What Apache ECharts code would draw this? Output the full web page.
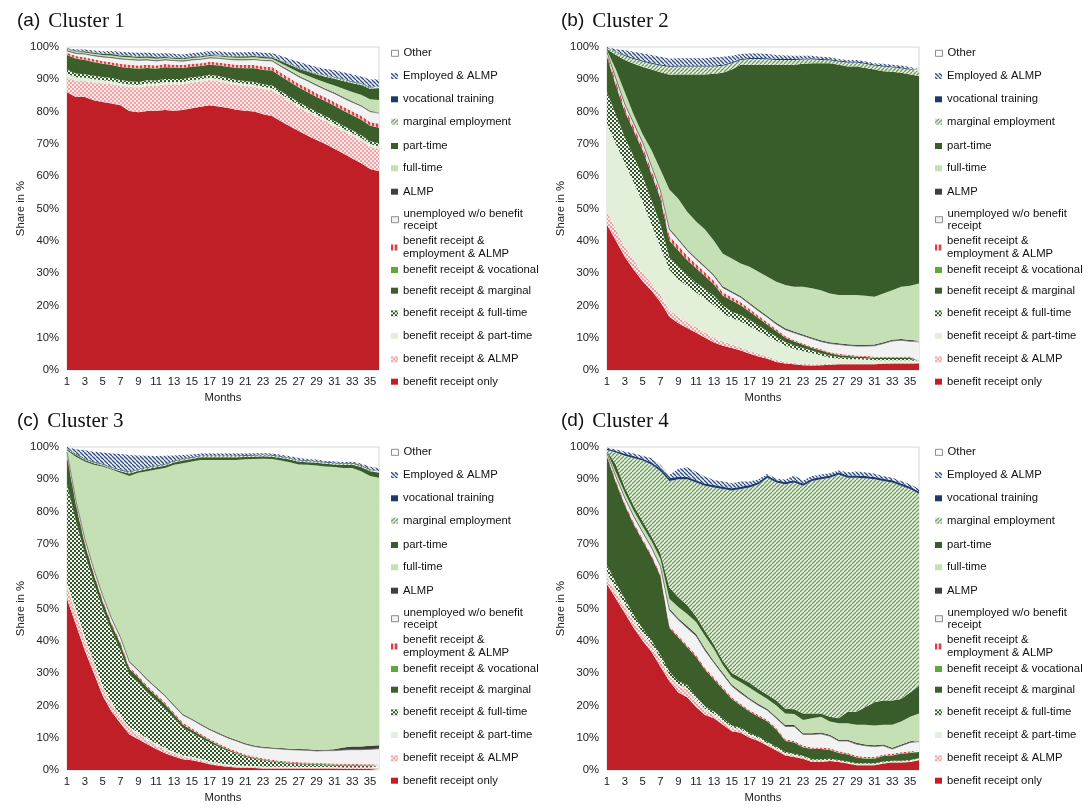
<!DOCTYPE html>
<html><head><meta charset="utf-8">
<script src="https://cdn.jsdelivr.net/npm/echarts@6/dist/echarts.min.js"></script>
<style>html,body{margin:0;padding:0;background:#fff}#c{width:1088px;height:810px}</style>
</head><body><div id="c"></div>
<script>
// ---------- categories / labels ----------
const months = ['1','2','3','4','5','6','7','8','9','10','11','12','13','14','15','16','17','18','19','20','21','22','23','24','25','26','27','28','29','30','31','32','33','34','35','36'];
const seriesNames = ['benefit receipt only','benefit receipt & ALMP','benefit receipt & part-time','benefit receipt & full-time','benefit receipt & marginal','benefit receipt & vocational','benefit receipt & employment & ALMP','unemployed w/o benefit receipt','ALMP','full-time','part-time','marginal employment','vocational training','Employed & ALMP','Other'];
const panelLetters = ['(a)','(b)','(c)','(d)'];
const clusterNames = ['Cluster 1','Cluster 2','Cluster 3','Cluster 4'];

// ---------- Cluster 1 (shares in %) ----------
const c1Only = [86,84.5,84.5,83.5,83,82.5,82,80.2,79.8,80.2,80.3,80.5,80.3,80.5,81,81.5,82,81.6,81.2,80.6,80.3,80,79.2,78.6,77,75.5,74,72.5,71.2,70,68.5,67,65.5,64,62.2,61.5];
const c1BenAlmp = [4.5,5.0,5.0,5.5,5.8,6.0,6.0,7.5,7.7,7.8,7.7,8.0,8.2,8.0,8.0,7.8,7.8,7.8,7.6,7.6,7.6,7.7,7.8,8.0,7.8,7.6,7.4,7.3,7.1,7.0,7.0,7.0,7.0,7.0,6.9,7.0];
const c1BenPart = [1.2,1.1,1.0,1.0,0.9,0.9,0.8,0.7,0.7,0.7,0.7,0.7,0.7,0.7,0.7,0.7,0.7,0.7,0.7,0.7,0.7,0.6,0.6,0.6,0.6,0.6,0.6,0.7,0.7,0.7,0.7,0.7,0.8,0.8,0.8,0.8];
const c1BenFull = [1.3,1.2,1.1,1.1,1.0,1.0,1.0,1.0,1.0,1.0,0.9,0.9,0.9,0.9,0.9,0.9,0.9,0.9,0.9,0.9,0.9,0.9,0.9,0.9,0.9,0.9,0.9,0.9,0.9,0.9,0.9,0.9,0.9,0.9,0.9,0.9];
const c1BenMarg = [4.5,4.6,4.4,4.2,4.1,4.0,4.0,4.1,4.1,3.8,3.7,3.6,3.5,3.4,3.3,3.2,3.1,3.3,3.5,3.7,3.9,4.2,4.4,4.6,4.6,4.6,4.6,4.6,4.6,4.6,4.7,4.7,4.7,4.8,4.8,4.8];
const c1BenVoc = [0.1,0.1,0.1,0.1,0.1,0.1,0.1,0.1,0.1,0.1,0.1,0.1,0.1,0.1,0.1,0.1,0.1,0.1,0.1,0.1,0.1,0.1,0.1,0.1,0.1,0.1,0.1,0.1,0.1,0.1,0.1,0.1,0.1,0.1,0.1,0.1];
const c1BenEmpAlmp = [0.6,0.7,0.7,0.8,0.8,0.8,0.9,0.9,0.9,0.9,0.9,0.9,0.8,0.8,0.8,0.8,0.8,0.8,0.8,0.9,0.9,0.9,1.0,1.0,1.0,1.0,1.0,1.1,1.1,1.1,1.1,1.1,1.1,1.1,1.1,1.1];
const c1Unemp = [0.6,0.8,1.0,1.1,1.2,1.4,1.5,1.6,1.6,1.5,1.4,1.3,1.3,1.2,1.2,1.2,1.2,1.3,1.4,1.5,1.6,1.7,1.8,1.9,2.0,2.1,2.2,2.3,2.4,2.4,2.6,2.7,2.8,3.0,3.2,3.3];
const c1Almp = [0.2,0.2,0.2,0.2,0.2,0.2,0.2,0.2,0.2,0.2,0.2,0.2,0.2,0.2,0.2,0.2,0.2,0.2,0.2,0.2,0.2,0.2,0.2,0.2,0.3,0.3,0.3,0.3,0.3,0.3,0.3,0.3,0.3,0.3,0.3,0.3];
const c1Full = [0.2,0.3,0.3,0.4,0.4,0.5,0.5,0.5,0.5,0.5,0.5,0.4,0.4,0.4,0.4,0.4,0.4,0.4,0.4,0.5,0.5,0.5,0.5,0.5,0.7,0.9,1.1,1.3,1.6,1.9,2.2,2.6,2.9,3.2,3.5,3.8];
const c1Part = [0.2,0.2,0.3,0.3,0.3,0.4,0.4,0.4,0.4,0.4,0.4,0.3,0.3,0.3,0.3,0.3,0.3,0.3,0.3,0.4,0.4,0.4,0.4,0.4,0.7,0.9,1.1,1.3,1.5,1.8,2.1,2.4,2.7,3.0,3.3,3.6];
const c1Marg = [0.1,0.1,0.1,0.1,0.1,0.1,0.1,0.1,0.1,0.1,0.1,0.1,0.1,0.1,0.1,0.1,0.1,0.1,0.1,0.1,0.1,0.1,0.1,0.1,0.2,0.2,0.3,0.3,0.3,0.3,0.4,0.4,0.4,0.4,0.4,0.4];
const c1Voc = [0.1,0.1,0.1,0.1,0.1,0.1,0.1,0.1,0.1,0.1,0.1,0.1,0.1,0.1,0.1,0.1,0.1,0.1,0.1,0.1,0.1,0.1,0.1,0.1,0.1,0.1,0.1,0.1,0.1,0.1,0.2,0.2,0.2,0.2,0.2,0.2];
const c1EmpAlmp = [0.1,0.3,0.4,0.5,0.7,0.8,0.9,1.0,1.0,1.0,1.0,1.0,1.0,1.0,1.0,1.1,1.1,1.1,1.1,1.1,1.1,1.1,1.1,1.1,1.3,1.5,1.7,1.8,1.9,2.0,2.0,2.1,2.1,2.1,2.2,2.2];
const c1Other = [0.3,0.8,0.8,1.1,1.3,1.2,1.5,1.6,1.8,1.7,1.8,1.9,1.8,1.7,1.5,1.3,1.2,1.3,1.5,1.6,1.7,1.8,1.9,1.9,2.8,3.6,4.4,5.1,5.8,6.8,7.3,7.9,8.5,9.1,9.6,10.0];

// ---------- Cluster 2 ----------
const c2Only = [45,40,35,31,27.5,24.5,21,16.5,14.5,13,11.5,10,8.5,7.5,6.8,6,5,4.2,3.5,2.5,2.0,1.8,1.5,1.4,1.5,1.6,1.8,1.8,1.8,1.8,1.8,1.9,2.0,2.0,2.0,2.0];
const c2BenAlmp = [4,3.5,3,3,2.5,2.3,2.2,2,2,1.8,1.7,1.5,1.5,1.3,1.2,1,0.9,0.8,0.7,0.6,0.5,0.4,0.4,0.4,0.3,0.3,0.2,0.2,0.2,0.2,0.2,0.2,0.2,0.2,0.2,0.2];
const c2BenPart = [27,26.5,26,24,22,18.2,14.8,12.5,11.5,11.2,10.8,10.5,10,8.7,8,8,7.6,7,6.3,5.9,5,4.3,3.9,3.4,2.7,1.9,1.5,1.3,1.3,1.2,1.0,0.9,0.8,0.8,0.8,0.2];
const c2BenFull = [10,9,8,8,8,7.5,7,4,4,3.5,3,3,3,2.5,2,2,2,1.8,1.5,1.3,1.2,1.1,1.0,0.8,0.7,0.7,0.5,0.5,0.4,0.4,0.4,0.4,0.4,0.4,0.4,0.2];
const c2BenMarg = [11,9,8,8,8,8,8,5,5,4.5,4.5,4,3.5,3,3.5,3,2.5,2.2,2,1.7,1.3,1.2,1.0,0.8,0.8,0.7,0.6,0.5,0.4,0.4,0.3,0.3,0.3,0.3,0.4,0.2];
const c2BenVoc = [0.1,0.1,0.1,0.1,0.1,0.1,0.1,0.1,0.1,0.1,0.1,0.1,0.1,0.1,0.1,0.1,0.1,0.1,0.1,0.1,0.1,0.1,0.1,0.1,0.1,0.1,0.1,0.1,0.1,0.1,0.1,0.1,0.1,0.1,0.1,0.1];
const c2BenEmpAlmp = [0.7,1.2,1.2,1.2,1.2,1.2,1.2,1.4,1.4,1.3,1.2,1.1,1.0,0.9,0.9,0.9,0.8,0.7,0.6,0.5,0.4,0.3,0.3,0.3,0.3,0.3,0.3,0.3,0.3,0.3,0.3,0.3,0.3,0.3,0.3,0.2];
const c2Unemp = [0.6,0.9,1.0,1.0,1.1,1.2,1.2,2.0,1.8,1.6,1.5,1.6,1.5,1.5,1.5,1.5,1.5,1.5,1.6,1.6,2.0,2.3,2.4,2.5,2.4,2.6,2.9,2.9,2.9,3.0,3.4,4.1,4.9,5.1,4.7,5.6];
const c2Almp = [0.3,0.4,0.4,0.4,0.4,0.4,0.4,0.4,0.4,0.4,0.4,0.4,0.4,0.4,0.4,0.4,0.4,0.4,0.4,0.4,0.4,0.4,0.4,0.4,0.4,0.4,0.4,0.4,0.4,0.4,0.4,0.4,0.4,0.4,0.4,0.4];
const c2Full = [0.3,2.4,3.3,2.3,2.2,4.6,6.1,12,12.3,11.6,11.3,11.3,10.5,10.1,10.1,10.1,11.2,11.7,12.2,12.7,13.4,13.9,14.8,15.2,15.5,15.1,14.9,15.2,15.4,15.2,14.8,15.1,15.3,16.2,16.8,17.7];
const c2Part = [0.4,4.5,10,15.8,20.8,25,30.2,35.5,38.5,42.5,45.5,48,51.7,56,58.5,61.5,62.5,64.1,65.6,67.2,68.2,68.7,69,69.7,70.3,71.3,71.3,70.8,70.8,70.5,70.3,68.8,67.6,66.2,65.4,64.2];
const c2Marg = [0.3,1.0,1.2,1.5,1.7,1.8,2.1,2.5,2.5,2.5,2.5,2.5,2.3,2.2,2.0,1.5,1.8,1.8,1.7,1.5,1.5,1.5,1.3,1.2,1.0,0.9,1.0,1.2,1.2,1.3,1.3,1.5,1.4,1.4,1.5,1.6];
const c2Voc = [0.1,0.2,0.3,0.3,0.3,0.3,0.3,0.3,0.3,0.3,0.3,0.3,0.3,0.3,0.3,0.3,0.3,0.3,0.3,0.3,0.3,0.3,0.3,0.3,0.3,0.3,0.3,0.3,0.3,0.3,0.3,0.3,0.3,0.3,0.3,0.3];
const c2EmpAlmp = [0.2,0.6,1.5,1.9,2.2,2.4,2.4,2.2,2.2,2.2,2.2,2.2,2.5,2.5,2.0,1.5,1.4,1.4,1.3,1.2,1.1,1.0,0.9,0.8,0.7,0.6,0.5,0.5,0.5,0.4,0.4,0.5,0.5,0.6,0.5,0.4];
const c2Other = [0,0.7,1,1.5,2,2.5,3,3.5,3.5,3.5,3.5,3.5,3.2,3,2.7,2.2,2,2,2.2,2.5,2.6,2.7,2.7,2.7,3,3.2,3.7,4,4,4.5,5,5.2,5.5,5.7,6.2,6.7];

// ---------- Cluster 3 ----------
const c3Only = [53,45,37,30,23,18,14.5,11,9.5,8,6.5,5.2,4.2,3.3,3.0,2.5,1.8,1.3,1.0,0.8,0.7,0.6,0.5,0.5,0.5,0.5,0.5,0.5,0.5,0.5,0.5,0.4,0.4,0.4,0.4,0.4];
const c3BenAlmp = [4,4,3.5,3,2.5,2.5,1.8,1.8,1.5,1.3,1.2,1.1,0.9,0.8,0.7,0.6,0.5,0.5,0.4,0.3,0.3,0.3,0.3,0.3,0.3,0.3,0.2,0.2,0.2,0.2,0.2,0.2,0.2,0.2,0.2,0.2];
const c3BenPart = [1,1,0.8,0.7,0.6,0.5,0.5,0.5,0.5,0.5,0.5,0.5,0.5,0.4,0.4,0.4,0.4,0.4,0.4,0.4,0.3,0.3,0.3,0.2,0.2,0.2,0.2,0.2,0.2,0.2,0.2,0.2,0.2,0.2,0.2,0.2];
const c3BenFull = [30.5,27,25.7,24.3,23.9,22,20.2,16.2,15.5,14.2,13.3,12.2,10.4,8.5,7.4,6.5,5.8,5.0,4.2,3.5,2.7,2.3,1.9,1.6,1.2,1.0,0.9,0.8,0.7,0.6,0.5,0.5,0.5,0.4,0.4,0.4];
const c3BenMarg = [8.5,5,3,2.5,2.2,2,2,1.8,1.6,1.5,1.4,1.3,1.2,1.0,0.8,0.7,0.6,0.5,0.4,0.3,0.3,0.2,0.2,0.2,0.2,0.2,0.2,0.2,0.2,0.2,0.2,0.2,0.2,0.2,0.2,0.2];
const c3BenVoc = [0.1,0.1,0.1,0.1,0.1,0.1,0.1,0.1,0.1,0.1,0.1,0.1,0.1,0.1,0.1,0.1,0.1,0.1,0.1,0.1,0.1,0.1,0.1,0.1,0.1,0.1,0.1,0.1,0.1,0.1,0.1,0.1,0.1,0.1,0.1,0.1];
const c3BenEmpAlmp = [0.8,0.6,0.5,0.5,0.5,0.5,0.5,0.5,0.5,0.5,0.5,0.5,0.5,0.5,0.5,0.4,0.4,0.4,0.4,0.4,0.4,0.3,0.3,0.3,0.3,0.3,0.3,0.3,0.3,0.3,0.3,0.3,0.3,0.3,0.3,0.3];
const c3Unemp = [0.5,0.7,1.0,1.1,1.2,1.3,1.4,1.5,1.6,1.8,1.9,2.0,2.1,2.4,2.7,2.8,2.9,3.0,3.1,3.2,3.2,3.2,3.3,3.5,3.7,3.7,3.8,3.8,3.7,3.9,4.0,4.3,4.4,4.5,4.6,4.8];
const c3Almp = [0.2,0.3,0.3,0.3,0.3,0.3,0.3,0.3,0.3,0.3,0.3,0.3,0.3,0.3,0.3,0.3,0.3,0.3,0.3,0.3,0.3,0.3,0.3,0.3,0.3,0.3,0.3,0.3,0.3,0.3,0.4,0.8,1.0,1.0,1.1,1.1];
const c3Full = [0.4,13.3,23.6,32,39.7,45.8,50.7,57.3,60.9,64.3,67.3,70.3,74.3,77.7,79.6,81.7,83.2,84.5,85.7,86.7,87.9,88.7,89.2,89.3,89,88.7,88.1,88.1,88.1,87.7,87.4,86.5,86.2,85.2,83.5,82.8];
const c3Part = [0.3,0.5,0.5,0.5,0.3,0.3,0.5,0.8,0.6,0.7,0.7,0.7,0.7,0.8,0.8,0.8,0.8,0.8,0.8,0.8,0.7,0.7,0.7,0.7,0.8,0.8,0.8,0.8,0.8,0.8,0.8,0.9,1.0,1.3,1.5,1.5];
const c3Marg = [0.2,0.2,0.3,0.3,0.3,0.3,0.3,0.4,0.4,0.4,0.4,0.4,0.4,0.4,0.4,0.4,0.4,0.4,0.4,0.4,0.4,0.4,0.4,0.4,0.4,0.4,0.4,0.4,0.4,0.4,0.4,0.4,0.4,0.4,0.4,0.4];
const c3Voc = [0.2,0.2,0.2,0.2,0.2,0.2,0.2,0.2,0.2,0.2,0.2,0.2,0.2,0.2,0.2,0.2,0.2,0.2,0.2,0.2,0.2,0.2,0.2,0.2,0.2,0.2,0.2,0.2,0.2,0.2,0.2,0.2,0.2,0.2,0.2,0.2];
const c3EmpAlmp = [0.3,1.4,2.5,3.0,3.5,4.2,4.8,5.1,4.2,3.5,2.9,2.5,1.6,1.1,0.8,0.6,0.6,0.6,0.6,0.6,0.5,0.5,0.4,0.4,0.4,0.4,0.6,0.4,0.4,0.3,0.3,0.3,0.3,0.5,0.8,0.8];
const c3Other = [0,0.7,1,1.5,1.7,2,2.2,2.4,2.5,2.6,2.7,2.6,2.5,2.4,2.2,2,2,2,2,2,2,1.9,1.9,2,2.4,2.9,3.4,3.7,3.9,4.3,4.5,4.7,4.6,5.1,6.1,6.6];

// ---------- Cluster 4 ----------
const c4Only = [57.5,53,48.5,44,40,36.5,32,27.5,24,22.5,19.5,17,16,14,12,11.5,10,9,7.5,6,4.5,4,3.5,2.5,2.5,2.8,2.5,2,1.5,1.5,1.5,2.0,2.3,2.3,2.5,3];
const c4BenAlmp = [2,2,2,2,2,2,2,1.5,2,2.5,2,1.5,1,1,1,0.8,0.7,0.6,0.5,0.5,0.5,0.4,0.3,0.3,0.3,0.2,0.2,0.2,0.2,0.2,0.2,0.2,0.2,0.2,0.2,0.2];
const c4BenPart = [1.5,1,0.8,0.6,0.5,0.5,0.5,0.5,0.5,0.4,0.4,0.4,0.4,0.4,0.3,0.3,0.3,0.3,0.3,0.3,0.3,0.3,0.3,0.2,0.2,0.2,0.2,0.2,0.2,0.2,0.2,0.2,0.2,0.2,0.2,0.2];
const c4BenFull = [2.5,2,1.7,1.4,1.3,1.2,1.1,1.0,1.0,0.9,0.8,0.8,0.7,0.6,0.5,0.5,0.4,0.4,0.4,0.4,0.3,0.3,0.3,0.3,0.3,0.3,0.2,0.2,0.2,0.2,0.2,0.2,0.2,0.2,0.2,0.2];
const c4BenMarg = [33.5,31,29,28,27.2,25.8,24.4,13.5,13.5,11.7,12.3,11.3,9.9,9,8.2,6.9,6.6,6.2,6.3,5.3,3.4,3.5,2.6,3.2,3.2,2.7,2.2,2.2,1.8,1.4,1.4,1.7,1.6,2.1,2.2,2.0];
const c4BenVoc = [0.1,0.1,0.1,0.1,0.1,0.1,0.1,0.1,0.1,0.1,0.1,0.1,0.1,0.1,0.1,0.1,0.1,0.1,0.1,0.1,0.1,0.1,0.1,0.1,0.1,0.1,0.1,0.1,0.1,0.1,0.1,0.1,0.1,0.1,0.1,0.1];
const c4BenEmpAlmp = [0.5,0.5,0.5,0.5,0.5,0.5,0.5,0.5,0.5,0.5,0.5,0.5,0.5,0.5,0.4,0.4,0.4,0.4,0.4,0.4,0.4,0.4,0.4,0.4,0.4,0.4,0.4,0.4,0.4,0.4,0.4,0.4,0.4,0.4,0.4,0.4];
const c4Unemp = [0.4,1.2,1.6,1.9,2.0,2.2,2.4,4.9,4.9,5.4,5.9,5.4,4.6,4.0,3.5,3.3,3.3,3.0,3.0,3.0,4.0,4.5,3.5,4.0,4.2,3.8,3.2,3.7,3.6,3.5,3.3,2.7,1.5,2.0,2.7,2.7];
const c4Almp = [0.2,0.3,0.3,0.3,0.3,0.3,0.4,0.5,0.5,0.6,0.6,0.6,0.5,0.5,0.5,0.5,0.4,0.4,0.4,0.4,0.4,0.4,0.4,0.4,0.4,0.4,0.4,0.4,0.4,0.4,0.4,0.4,0.4,0.4,0.4,0.4];
const c4Full = [0.3,1.1,1.3,1.5,1.6,1.7,1.9,3.0,3.5,3.7,3.7,3.9,3.8,2.4,2.2,2.9,3.3,3.3,3.1,3.6,3.6,3.4,4.1,4.6,4.9,4.1,5.1,5.1,5.6,6.1,6.1,6.1,7.1,7.1,7.6,8.3];
const c4Part = [0.3,2.3,1.7,1.5,1.5,1.5,1.7,3.5,3.0,2.7,1.7,1.5,1.3,1.3,1.3,1.3,1.5,1.3,1.3,1.5,1.5,1.5,2.0,1.5,1.0,1.5,1.5,3.5,4.0,5.5,7.2,7.5,7.5,7.0,7.5,8.5];
const c4Marg = [0.3,3.8,9.8,14.8,18.8,22.3,25.5,33,36.5,39,41.5,45,48.7,53.2,56.5,58.5,60.5,63.5,67.2,67.5,69.5,70.2,70.5,72,72.5,74,75.5,72.5,72.5,70.8,69,68,67.5,66,63,59.5];
const c4Voc = [0.4,0.5,0.6,0.6,0.6,0.7,0.8,0.8,0.8,0.7,0.7,0.7,0.7,0.7,0.7,0.7,0.7,0.7,0.7,0.7,0.7,0.7,0.7,0.7,0.7,0.7,0.7,0.7,0.7,0.7,0.7,0.7,0.7,0.7,0.7,0.7];
const c4EmpAlmp = [0.3,0.4,0.7,0.8,0.9,1.2,1.2,1.0,2.5,3.0,2.6,2.1,1.6,1.6,1.6,1.6,1.1,0.8,0.5,0.5,0.7,1.5,1.0,0.8,0.8,0.7,0.5,1.0,1.2,1.2,1.0,0.8,0.8,0.8,0.8,0.8];
const c4Other = [0.2,0.8,1.4,2,2.7,3.5,5.5,8.7,6.7,6.3,7.7,9.2,10.2,10.7,11.2,10.7,10.7,10,8.3,9.8,10.1,8.8,10.3,9,8.5,8.1,7.3,7.8,7.6,7.8,8.3,9,9.5,10.5,11.5,13];

const clusters = [
  [c1Only,c1BenAlmp,c1BenPart,c1BenFull,c1BenMarg,c1BenVoc,c1BenEmpAlmp,c1Unemp,c1Almp,c1Full,c1Part,c1Marg,c1Voc,c1EmpAlmp,c1Other],
  [c2Only,c2BenAlmp,c2BenPart,c2BenFull,c2BenMarg,c2BenVoc,c2BenEmpAlmp,c2Unemp,c2Almp,c2Full,c2Part,c2Marg,c2Voc,c2EmpAlmp,c2Other],
  [c3Only,c3BenAlmp,c3BenPart,c3BenFull,c3BenMarg,c3BenVoc,c3BenEmpAlmp,c3Unemp,c3Almp,c3Full,c3Part,c3Marg,c3Voc,c3EmpAlmp,c3Other],
  [c4Only,c4BenAlmp,c4BenPart,c4BenFull,c4BenMarg,c4BenVoc,c4BenEmpAlmp,c4Unemp,c4Almp,c4Full,c4Part,c4Marg,c4Voc,c4EmpAlmp,c4Other]
];

// ---------- styles ----------
function pat(w, h, draw) {
  const c = document.createElement('canvas'); c.width = w; c.height = h;
  const g = c.getContext('2d'); draw(g); return { image: c, repeat: 'repeat' };
}
const pinkCheck = pat(4,4,g=>{g.fillStyle='#FCE8E8';g.fillRect(0,0,4,4);g.fillStyle='#F0A2A5';g.fillRect(0,0,2,2);g.fillRect(2,2,2,2);});
const greenCheck = pat(4,4,g=>{g.fillStyle='#F2F5EF';g.fillRect(0,0,4,4);g.fillStyle='#34562A';g.fillRect(0,0,2,2);g.fillRect(2,2,2,2);});
const redStripe = pat(4,4,g=>{g.fillStyle='#F6C0C2';g.fillRect(0,0,4,4);g.fillStyle='#DC3F47';g.fillRect(0,0,2,4);});
const greenHatch = pat(4,4,g=>{g.fillStyle='#EEF4EA';g.fillRect(0,0,4,4);g.strokeStyle='#6F9B5A';g.lineWidth=1.3;
  [-4,0,4].forEach(o=>{g.beginPath();g.moveTo(o,4);g.lineTo(o+4,0);g.stroke();});});
const navyHatch = pat(4,4,g=>{g.fillStyle='#F3F5FA';g.fillRect(0,0,4,4);g.strokeStyle='#2E4C8C';g.lineWidth=1.3;
  [-4,0,4].forEach(o=>{g.beginPath();g.moveTo(o,0);g.lineTo(o+4,4);g.stroke();});});
const FILLS = ['#C01F28', pinkCheck, '#E2EFD9', greenCheck, '#3B5E2B', '#5DAA3A', redStripe, '#F2F2F2', '#3F3F3F', '#C5E0B4', '#385D2A', greenHatch, '#1F3A6E', navyHatch, '#FFFFFF'];

const FONT = 'Liberation Sans, Arial, sans-serif';
const GRIDS = [{left:67,top:47},{left:607,top:47},{left:67,top:447},{left:607,top:447}];
const LEG_X = [391, 935, 391, 935];
const LEG_DY = [0, 0, 399, 399];
const LEG_CY = [53.3, 76, 99.3, 121.7, 146, 168.3, 191.7, 219.7, 247.5, 270, 290.7, 313.3, 336, 359.3, 381.7];
const TITLE_POS = [{left:12,top:4},{left:556,top:4},{left:12,top:404},{left:556,top:404}];
const twoLine = {'unemployed w/o benefit receipt':'unemployed w/o benefit\nreceipt','benefit receipt & employment & ALMP':'benefit receipt &\nemployment & ALMP'};

const option = { animation:false, backgroundColor:'#fff', title:[], grid:[], xAxis:[], yAxis:[], series:[], legend:[] };

for (let p = 0; p < 4; p++) {
  option.title.push({
    text: '{a|' + panelLetters[p] + '} {b|' + clusterNames[p] + '}',
    left: TITLE_POS[p].left, top: TITLE_POS[p].top,
    textStyle: { fontWeight: 'normal', rich: {
      a: { fontFamily: FONT, fontSize: 19, fontWeight: 'normal', color: '#111', lineHeight: 24 },
      b: { fontFamily: 'Liberation Serif, serif', fontSize: 21, fontWeight: 'normal', color: '#111', lineHeight: 24, padding:[0,0,0,3] }
    } }
  });
  option.grid.push({ left: GRIDS[p].left, top: GRIDS[p].top, width: 312, height: 323,
    show: true, borderColor: '#D6D6D6', borderWidth: 1, backgroundColor: 'transparent' });
  option.xAxis.push({ type:'category', gridIndex:p, data: months, boundaryGap:false,
    axisLine:{show:false}, axisTick:{show:false}, splitLine:{show:false},
    axisLabel:{ interval:1, fontSize:11.3, color:'#222', fontFamily:FONT, margin:6 },
    name:'Months', nameLocation:'middle', nameGap:22, nameTextStyle:{fontSize:11.3, color:'#222', fontFamily:FONT} });
  option.yAxis.push({ type:'value', gridIndex:p, min:0, max:100, interval:10,
    axisLine:{show:false}, axisTick:{show:false}, splitLine:{show:false},
    axisLabel:{ formatter:'{value}%', fontSize:11.3, color:'#222', fontFamily:FONT, margin:8 },
    name:'Share in %', nameLocation:'middle', nameGap:40, nameTextStyle:{fontSize:11.3, color:'#222', fontFamily:FONT} });
  for (let i = 0; i < 15; i++) {
    option.series.push({
      type:'line', name: seriesNames[i], xAxisIndex:p, yAxisIndex:p, stack:'panel'+p,
      data: clusters[p][i], symbol:'none', showSymbol:false, silent:true,
      lineStyle: i === 7 ? { width: 0.8, color: '#6E6E6E' } : { width: 0, color: 'rgba(0,0,0,0)' },
      itemStyle: { color: FILLS[i] },
      areaStyle: { color: FILLS[i], opacity: i === 14 ? 0 : 1 }
    });
  }
  for (let k = 0; k < 15; k++) {
    const i = 14 - k;
    const nm = seriesNames[i];
    const dbl = !!twoLine[nm];
    const bordered = (i === 14 || i === 7);
    option.legend.push({
      data: [{ name: nm, icon: 'rect', itemStyle: { color: FILLS[i], borderColor: bordered ? '#8C8C8C' : 'rgba(0,0,0,0)', borderWidth: bordered ? 1 : 0 } }],
      left: LEG_X[p], top: LEG_CY[k] + LEG_DY[p] - (dbl ? 12.5 : 6.25),
      orient:'vertical', padding:0, itemWidth:7, itemHeight:6, itemGap:0, selectedMode:false,
      formatter: n => twoLine[n] || n,
      textStyle: { fontSize: 11.3, fontFamily: FONT, color:'#111', lineHeight: 12.5 }
    });
  }
}

const chart = echarts.init(document.getElementById('c'), null, { renderer: 'canvas' });
chart.setOption(option);
</script>
</body></html>
